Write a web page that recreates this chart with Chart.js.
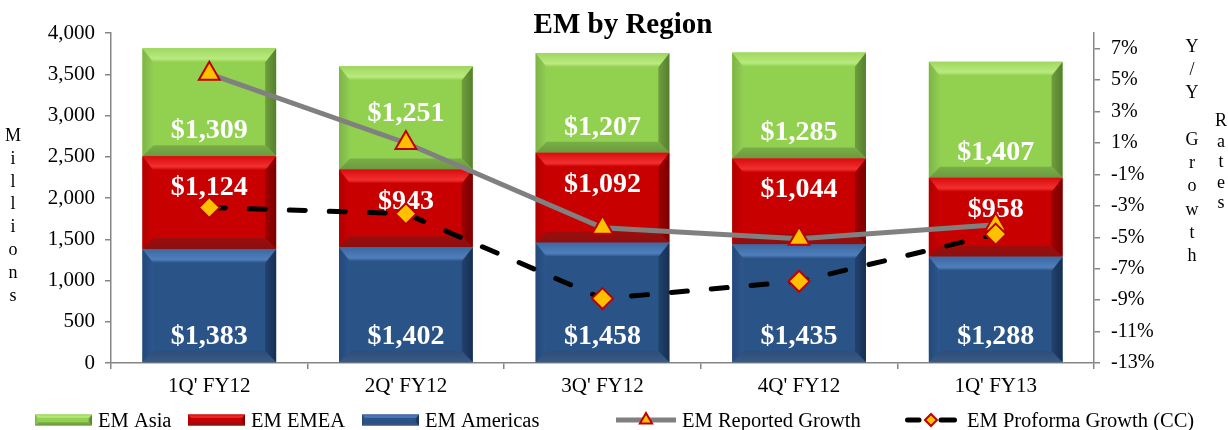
<!DOCTYPE html>
<html><head><meta charset="utf-8">
<script src="https://cdn.jsdelivr.net/npm/chart.js@4.4.0/dist/chart.umd.min.js"></script>
<style>html,body{margin:0;padding:0;background:#fff;}#wrap{width:1228px;height:430px;}</style>
</head><body><div id="wrap"><canvas id="c" width="1228" height="430"></canvas></div>
<script>
// ---- data ----
const categories = ["1Q' FY12", "2Q' FY12", "3Q' FY12", "4Q' FY12", "1Q' FY13"];
const emAmericas = [1383, 1402, 1458, 1435, 1288];
const emEMEA = [1124, 943, 1092, 1044, 958];
const emAsia = [1309, 1251, 1207, 1285, 1407];
const reportedGrowth = [5.4, 1.0, -4.4, -5.1, -4.2];
const proformaGrowth = [-3.1, -3.5, -8.9, -7.8, -4.8];
const leftTickValues = [0, 500, 1000, 1500, 2000, 2500, 3000, 3500, 4000];
const rightTickValues = [-13, -11, -9, -7, -5, -3, -1, 1, 3, 5, 7];
const titleText = 'EM by Region';
const leftTitle = 'Millions';
const rightTitleA = 'Y/Y Growth';
const rightTitleB = 'Rates';

// ---- styles ----
const SERIF = "'Liberation Serif','Times New Roman',serif";
const AXIS = '#868686';
const barStyles = {
  'EM Americas': {face:'#2A5388', topA:'#3C68A2', topB:'#4F7FBC', leftA:'#24487A', leftB:'#2C578E', rightA:'#172F52', rightB:'#22426F', botA:'#3A5A84', botB:'#2E4E7A',
                  label:{anchor:'base', offset:-18}},
  'EM EMEA':     {face:'#C80000', topA:'#D80C0C', topB:'#F23030', leftA:'#B00000', leftB:'#CC0000', rightA:'#7A0000', rightB:'#A00000', botA:'#8A1010', botB:'#9E0C0C',
                  label:{anchor:'end', offset:39}},
  'EM Asia':     {face:'#92D050', topA:'#9ED85E', topB:'#B9EA80', leftA:'#7DB446', leftB:'#92CE54', rightA:'#557F2E', rightB:'#6F9F3E', botA:'#6A9A3E', botB:'#7AAE48',
                  label:{anchor:'base', offset:-18, overrides:{1:-49}}}
};
// legend layout (slot start, swatch width, text gap)
const legendLayout = [
  {label:'EM Asia', x:35, w:57, gap:6},
  {label:'EM EMEA', x:188, w:57, gap:6},
  {label:'EM Americas', x:362, w:57, gap:6},
  {label:'EM Reported Growth', x:616, w:60, gap:6},
  {label:'EM Proforma Growth (CC)', x:905, w:52, gap:10}
];

function bevel(ctx, L, T, R, B, st, sz) {
  const h = B - T;
  const k = sz || 1;
  const s = Math.min(11 * k, h / 3), tb = Math.min(14 * k, h / 3), bb = Math.min(11 * k, h / 3);
  let g;
  g = ctx.createLinearGradient(L, 0, L + s, 0); g.addColorStop(0, st.leftA); g.addColorStop(1, st.leftB);
  ctx.fillStyle = g; ctx.beginPath(); ctx.moveTo(L, T); ctx.lineTo(L + s, T + tb); ctx.lineTo(L + s, B - bb); ctx.lineTo(L, B); ctx.closePath(); ctx.fill();
  g = ctx.createLinearGradient(R, 0, R - s, 0); g.addColorStop(0, st.rightA); g.addColorStop(1, st.rightB);
  ctx.fillStyle = g; ctx.beginPath(); ctx.moveTo(R, T); ctx.lineTo(R, B); ctx.lineTo(R - s, B - bb); ctx.lineTo(R - s, T + tb); ctx.closePath(); ctx.fill();
  g = ctx.createLinearGradient(0, T, 0, T + tb); g.addColorStop(0, st.topA); g.addColorStop(0.75, st.topB); g.addColorStop(1, st.face);
  ctx.fillStyle = g; ctx.beginPath(); ctx.moveTo(L, T); ctx.lineTo(R, T); ctx.lineTo(R - s, T + tb); ctx.lineTo(L + s, T + tb); ctx.closePath(); ctx.fill();
  g = ctx.createLinearGradient(0, B, 0, B - bb); g.addColorStop(0, st.botA); g.addColorStop(1, st.botB);
  ctx.fillStyle = g; ctx.beginPath(); ctx.moveTo(L, B); ctx.lineTo(R, B); ctx.lineTo(R - s, B - bb); ctx.lineTo(L + s, B - bb); ctx.closePath(); ctx.fill();
}

const barDecor = {
  id: 'barDecor',
  afterDatasetDraw(chart, args) {
    const ds = chart.data.datasets[args.index];
    if (ds.type !== 'bar') return;
    const st = barStyles[ds.label];
    const ctx = chart.ctx;
    ctx.save();
    args.meta.data.forEach((el, i) => {
      const p = el.getProps(['x', 'y', 'base', 'width'], true);
      const L = p.x - p.width / 2, R = p.x + p.width / 2;
      const T = Math.min(p.y, p.base), B = Math.max(p.y, p.base);
      bevel(ctx, L, T, R, B, st);
      const lab = st.label;
      const off = (lab.overrides && lab.overrides[i] !== undefined) ? lab.overrides[i] : lab.offset;
      const yb = (lab.anchor === 'base' ? B : T) + off;
      ctx.fillStyle = '#FFFFFF';
      ctx.font = 'bold 28px ' + SERIF;
      ctx.textAlign = 'center';
      ctx.textBaseline = 'alphabetic';
      ctx.fillText('$' + ds.data[i].toLocaleString('en-US'), p.x, yb);
    });
    ctx.restore();
  }
};

function drawLegendLine(ctx, x, y, w, dashed) {
  ctx.save();
  const cx = x + w / 2;
  ctx.lineWidth = 5;
  if (dashed) {
    ctx.lineCap = 'round'; ctx.strokeStyle = '#000';
    ctx.beginPath(); ctx.moveTo(x + 2.5, y); ctx.lineTo(x + 14, y); ctx.stroke();
    ctx.beginPath(); ctx.moveTo(cx + 10, y); ctx.lineTo(x + w - 2.5, y); ctx.stroke();
  } else {
    ctx.lineCap = 'butt'; ctx.strokeStyle = '#808080';
    ctx.beginPath(); ctx.moveTo(x, y); ctx.lineTo(x + w, y); ctx.stroke();
  }
  ctx.fillStyle = '#FFC000'; ctx.strokeStyle = '#C00000'; ctx.lineWidth = 2;
  ctx.beginPath();
  if (dashed) { const r = 6; ctx.moveTo(cx, y - r); ctx.lineTo(cx + r, y); ctx.lineTo(cx, y + r); ctx.lineTo(cx - r, y); }
  else { const r = 7; ctx.moveTo(cx, y - r); ctx.lineTo(cx + r * 0.87, y + r * 0.5); ctx.lineTo(cx - r * 0.87, y + r * 0.5); }
  ctx.closePath(); ctx.fill(); ctx.stroke();
  ctx.restore();
}

const decor = {
  id: 'decor',
  afterDraw(chart) {
    const ctx = chart.ctx;
    ctx.save();
    ctx.fillStyle = '#000';
    ctx.font = 'bold 29px ' + SERIF;
    ctx.textAlign = 'center'; ctx.textBaseline = 'alphabetic';
    ctx.fillText(titleText, 623, 33);
    ctx.font = '18px ' + SERIF;
    [...leftTitle].forEach((ch, i) => ctx.fillText(ch, 13, 141 + i * 22.8));
    [...rightTitleA].forEach((ch, i) => ctx.fillText(ch, 1192, 51.5 + i * 23.3));
    [...rightTitleB].forEach((ch, i) => ctx.fillText(ch, 1221, 126 + i * 20.6));
    // legend
    const dsBy = {}; chart.data.datasets.forEach(d => dsBy[d.label] = d);
    ctx.font = '20.5px ' + SERIF;
    ctx.textAlign = 'left';
    const ly = 420;
    legendLayout.forEach(item => {
      const d = dsBy[item.label];
      if (d.type === 'bar') {
        const st = barStyles[item.label];
        ctx.fillStyle = st.face; ctx.fillRect(item.x, ly - 5.5, item.w, 11);
        bevel(ctx, item.x, ly - 5.5, item.x + item.w, ly + 5.5, st, 0.3);
      } else {
        drawLegendLine(ctx, item.x, ly, item.w, !!d.borderDash);
      }
      ctx.fillStyle = '#000';
      ctx.fillText(d.label, item.x + item.w + item.gap, ly + 7);
    });
    ctx.restore();
  }
};

const tickFont = {family: SERIF, size: 21};
new Chart(document.getElementById('c'), {
  data: {
    labels: categories,
    datasets: [
      {type: 'line', label: 'EM Proforma Growth (CC)', data: proformaGrowth, yAxisID: 'y1', order: 0,
       borderColor: '#000', borderWidth: 5, borderDash: [16, 24], borderCapStyle: 'round', fill: false, tension: 0,
       pointStyle: 'rectRot', pointRadius: 10.5, pointBackgroundColor: '#FFC000', pointBorderColor: '#C00000', pointBorderWidth: 2},
      {type: 'line', label: 'EM Reported Growth', data: reportedGrowth, yAxisID: 'y1', order: 1,
       borderColor: '#808080', borderWidth: 5, fill: false, tension: 0,
       pointStyle: 'triangle', pointRadius: 12, pointBackgroundColor: '#FFC000', pointBorderColor: '#C00000', pointBorderWidth: 2},
      {type: 'bar', label: 'EM Americas', data: emAmericas, yAxisID: 'y', order: 2, backgroundColor: barStyles['EM Americas'].face, borderWidth: 0, barPercentage: 0.68, categoryPercentage: 1},
      {type: 'bar', label: 'EM EMEA', data: emEMEA, yAxisID: 'y', order: 2, backgroundColor: barStyles['EM EMEA'].face, borderWidth: 0, barPercentage: 0.68, categoryPercentage: 1},
      {type: 'bar', label: 'EM Asia', data: emAsia, yAxisID: 'y', order: 2, backgroundColor: barStyles['EM Asia'].face, borderWidth: 0, barPercentage: 0.68, categoryPercentage: 1}
    ]
  },
  options: {
    responsive: false, animation: false, devicePixelRatio: 1,
    layout: {padding: {top: 33, left: 0, right: 0, bottom: 0}},
    plugins: {legend: {display: false}, title: {display: false}, tooltip: {enabled: false}},
    scales: {
      x: {stacked: true, offset: true,
          grid: {display: true, drawOnChartArea: false, drawTicks: true, tickLength: 6, offset: true, color: AXIS, lineWidth: 1.5},
          border: {display: true, color: AXIS, width: 1.5},
          ticks: {font: {family: SERIF, size: 21}, color: '#000', padding: 5, autoSkip: false, maxRotation: 0},
          afterFit: s => { s.height = 67; }},
      y: {stacked: true, position: 'left', min: 0, max: 4000,
          grid: {drawOnChartArea: false, drawTicks: true, tickLength: 6, color: AXIS, lineWidth: 1.5},
          border: {display: true, color: AXIS, width: 1.5},
          afterBuildTicks: s => { s.ticks = leftTickValues.map(v => ({value: v})); },
          ticks: {font: tickFont, color: '#000', padding: 10, callback: v => v.toLocaleString('en-US')},
          afterFit: s => { s.width = 111; }},
      y1: {position: 'right', min: -13, max: 8, stacked: false,
          grid: {drawOnChartArea: false, drawTicks: true, tickLength: 6, color: AXIS, lineWidth: 1.5},
          border: {display: true, color: AXIS, width: 1.5},
          afterBuildTicks: s => { s.ticks = rightTickValues.map(v => ({value: v})); },
          ticks: {font: {family: SERIF, size: 20}, color: '#000', padding: 11, callback: v => v + '%'},
          afterFit: s => { s.width = 134; }}
    }
  },
  plugins: [barDecor, decor]
});
</script></body></html>
